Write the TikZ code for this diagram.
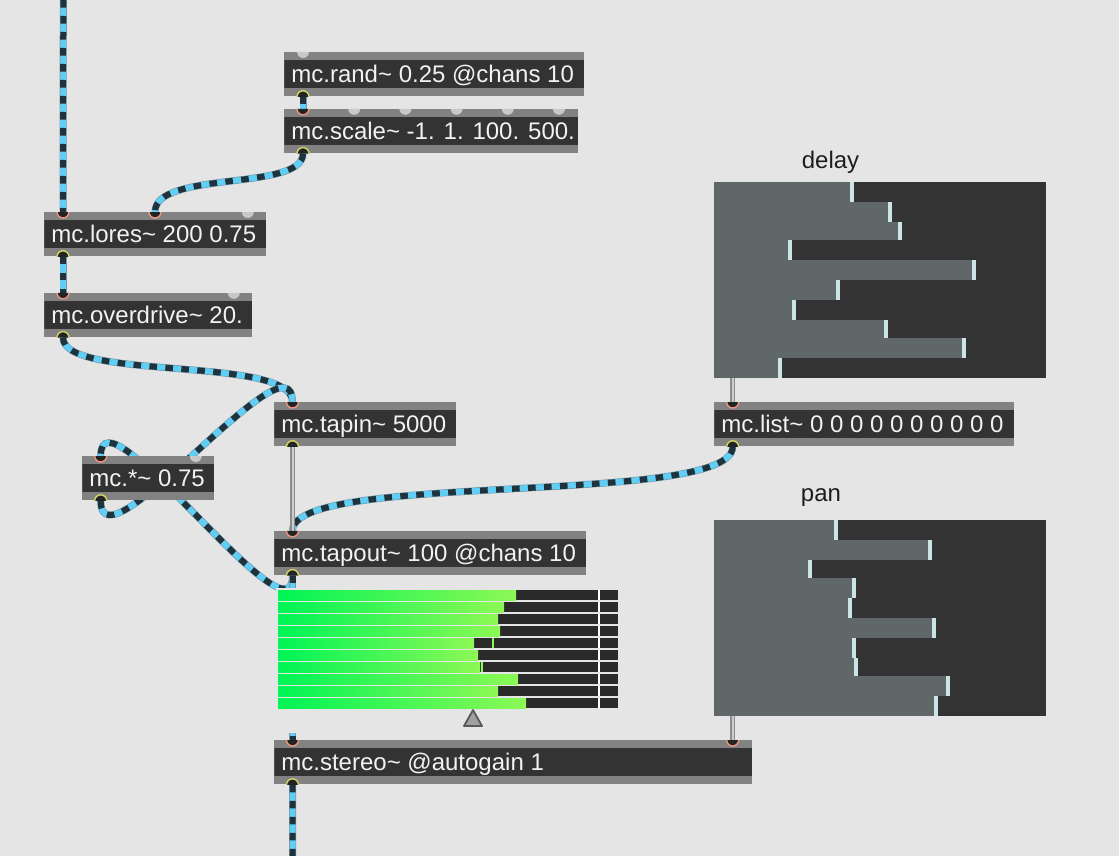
\documentclass[tikz,border=0pt]{standalone}
\usepackage{fontspec}
\setmainfont{Liberation Sans}
\usetikzlibrary{calc, positioning}
\definecolor{patchbg}{RGB}{229,229,229}
\definecolor{objbar}{RGB}{130,130,130}
\definecolor{objdark}{RGB}{51,51,51}
\definecolor{objtext}{RGB}{242,242,242}
\definecolor{labeltext}{RGB}{30,30,30}
\definecolor{sigcyan}{RGB}{96,206,245}
\definecolor{sigdark}{RGB}{32,50,60}
\definecolor{sigedge}{RGB}{120,150,162}
\definecolor{ctrlgrey}{RGB}{140,140,140}
\definecolor{ctrllight}{RGB}{205,205,205}
\definecolor{inlethot}{RGB}{236,150,130}
\definecolor{outletring}{RGB}{214,214,100}
\definecolor{portcold}{RGB}{200,200,200}
\definecolor{portdark}{RGB}{35,35,35}
\definecolor{msfill}{RGB}{95,103,105}
\definecolor{msknob}{RGB}{205,228,231}
\definecolor{meterdark}{RGB}{42,42,42}
\definecolor{metergreenA}{RGB}{0,245,85}
\definecolor{metergreenB}{RGB}{140,248,85}

\pgfdeclarelayer{back}
\pgfdeclarelayer{cords}
\pgfsetlayers{back,cords,main}

\newcommand{\maxin}[1]{\fill[portdark] (#1) ++(-3pt,0) arc[start angle=180, end angle=360, radius=3pt] -- cycle;
  \draw[inlethot, line width=0.7pt] (#1) ++(-3pt,0) arc[start angle=180, end angle=360, radius=3pt];}
\newcommand{\maxcold}[1]{\fill[portcold] (#1) ++(-3pt,0) arc[start angle=180, end angle=360, radius=3pt] -- cycle;}
\newcommand{\maxout}[1]{\fill[portdark] (#1) ++(-3pt,0) arc[start angle=180, end angle=0, radius=3pt] -- cycle;
  \draw[outletring, line width=0.7pt] (#1) ++(-3pt,0) arc[start angle=180, end angle=0, radius=3pt];}
\newcommand{\objtxt}[2]{\makebox[\dimexpr#1pt-7pt\relax][l]{#2}}

\begin{document}
\begin{tikzpicture}[x=0.5pt, y=-0.5pt,
    every node/.style={font=\fontsize{12pt}{14pt}\selectfont},
    maxobj/.style={rectangle, anchor=north west, fill=objbar, inner xsep=3.5pt, inner ysep=0pt,
      minimum height=22pt, text height=10pt, text depth=2pt, text=objtext,
      path picture={\fill[objdark] ([yshift=-4pt]path picture bounding box.north west)
        rectangle ([yshift=4pt]path picture bounding box.south east);}},
    msbox/.style={rectangle, anchor=north west, fill=objdark, inner sep=0pt, outer sep=0pt,
      minimum width=166pt, minimum height=98pt},
    sig/.style={draw=sigcyan, line width=2.9pt,
      preaction={draw=sigedge, line width=3.5pt},
      postaction={draw=sigdark, line width=3pt, dash pattern=on 3.8pt off 4.2pt}},
    ctrl/.style={draw=ctrlgrey, line width=2.6pt, postaction={draw=ctrllight, line width=1pt}}]

\begin{pgfonlayer}{back}
\fill[patchbg] (0,0) rectangle (1119,856);
\end{pgfonlayer}
\useasboundingbox (0,0) rectangle (1119,856);

% objects
\node[maxobj] (rand) at (284,52) {\objtxt{150}{mc.rand\textasciitilde{} 0.25 @chans 10}};
\node[maxobj, below=6pt of rand.south west, anchor=north west] (scale) {\objtxt{147}{mc.scale\textasciitilde{} -1. 1. 100. 500.}};
\node[maxobj] (lores) at (44,212) {\objtxt{111}{mc.lores\textasciitilde{} 200 0.75}};
\node[maxobj, below=18pt of lores.south west, anchor=north west] (drive) {\objtxt{104}{mc.overdrive\textasciitilde{} 20.}};
\node[maxobj] (tapin) at (274,402) {\objtxt{91}{mc.tapin\textasciitilde{} 5000}};
\node[maxobj] (mul) at (82,456) {\objtxt{66}{mc.*\textasciitilde{} 0.75}};
\node[maxobj, below=42pt of tapin.south west, anchor=north west] (tapout) {\objtxt{156}{mc.tapout\textasciitilde{} 100 @chans 10}};
\node[maxobj] (list) at (714,402) {\objtxt{150}{mc.list\textasciitilde{} 0 0 0 0 0 0 0 0 0 0}};
\node[maxobj] (stereo) at (274,740) {\objtxt{239}{mc.stereo\textasciitilde{} @autogain 1}};

% multisliders
\node[msbox] (delay) at (714,182) {};
\node[text=labeltext] (delaylabel) at (830.5,162) {delay};
\foreach \a/\b/\k in {182/202/854, 202/222/892, 222/240/902, 240/260/792, 260/280/976,
                      280/300/840, 300/320/796, 320/338/888, 338/358/966, 358/378/782} {
  \fill[msfill] (714,\a) rectangle (\k-4,\b);
  \fill[msknob] (\k-4,\a) rectangle (\k,\b);
}
\node[msbox] (pan) at (714,520) {};
\node[text=labeltext] (panlabel) at (821,498) {pan};
\foreach \a/\b/\k in {520/540/838, 540/560/932, 560/578/812, 578/598/856, 598/618/852,
                      618/638/936, 638/658/856, 658/676/858, 676/696/950, 696/716/938} {
  \fill[msfill] (714,\a) rectangle (\k-4,\b);
  \fill[msknob] (\k-4,\a) rectangle (\k,\b);
}

% meter
\fill[patchbg] (276,588) rectangle (620,733);
\foreach \i/\lev in {0/516, 1/504, 2/498, 3/500, 4/474, 5/478, 6/480, 7/518, 8/498, 9/526} {
  \fill[meterdark] (\lev,590+12*\i) rectangle (618,600+12*\i);
  \shade[left color=metergreenA, right color=metergreenB] (278,590+12*\i) rectangle (\lev,600+12*\i);
  \fill[white] (598,590+12*\i) rectangle (600,600+12*\i);
}
\fill[metergreenB] (492,638) rectangle (494,648);
\fill[metergreenB] (481,662) rectangle (483,672);
\filldraw[fill=gray!75!white, draw=black!65, line width=0.9pt, line join=round] (473,710) -- (482,726) -- (464,726) -- cycle;

% cords
\begin{pgfonlayer}{cords}
\coordinate (feed) at (63.3,0);
\coordinate (sink) at (292.7,856);
\coordinate (delayout) at ($(delay.south west)+(18.7,0)$);
\coordinate (panout) at ($(pan.south west)+(18.7,0)$);
\draw[sig] (feed) -- ($(lores.north west)+(19,0)$);
\draw[sig] ($(rand.south west)+(19,0)$) -- ($(scale.north west)+(19,0)$);
\draw[sig] ($(scale.south west)+(19,0)$) .. controls +(0,38) and +(0,-42) .. ($(lores.north west)+(111,0)$);
\draw[sig] ($(lores.south west)+(19,0)$) -- ($(drive.north west)+(19,0)$);
\draw[sig] ($(drive.south west)+(19,0)$) .. controls +(0,44) and +(0,-47) .. ($(tapin.north west)+(18.5,0)$);
\draw[sig] ($(mul.south west)+(18.7,0)$) .. controls +(0,75) and +(0,-75) .. ($(tapin.north west)+(18.5,0)$);
\draw[sig] ($(tapout.south west)+(18.5,0)$) .. controls +(0,75) and +(0,-75) .. ($(mul.north west)+(18.7,0)$);
\draw[sig] ($(list.south west)+(18.7,0)$) .. controls +(0,60) and +(0,-60) .. ($(tapout.north west)+(18.5,0)$);
\draw[sig] ($(tapout.south west)+(18.5,0)$) -- ($(stereo.north west)+(18.5,0)$);
\draw[sig] ($(stereo.south west)+(18.5,0)$) -- (sink);
\draw[ctrl] ($(tapin.south west)+(18.5,0)$) -- ($(tapout.north west)+(18.5,0)$);
\draw[ctrl] (delayout) -- (delayout |- list.north);
\draw[ctrl] (panout) -- (panout |- stereo.north);
\end{pgfonlayer}

% inlets and outlets
\maxcold{$(rand.north west)+(19,0)$}
\maxout{$(rand.south west)+(19,0)$}
\maxin{$(scale.north west)+(19,0)$}
\foreach \k in {1,...,5} {\maxcold{$(scale.north west)+(19+\k*51.2,0)$}}
\maxout{$(scale.south west)+(19,0)$}
\maxin{$(lores.north west)+(19,0)$}
\maxin{$(lores.north west)+(111,0)$}
\maxcold{$(lores.north east)+(-19,0)$}
\maxout{$(lores.south west)+(19,0)$}
\maxin{$(drive.north west)+(19,0)$}
\maxcold{$(drive.north east)+(-19,0)$}
\maxout{$(drive.south west)+(19,0)$}
\maxin{$(tapin.north west)+(18.5,0)$}
\maxout{$(tapin.south west)+(18.5,0)$}
\maxin{$(mul.north west)+(18.7,0)$}
\maxcold{$(mul.north east)+(-19,0)$}
\maxout{$(mul.south west)+(18.7,0)$}
\maxin{$(tapout.north west)+(18.5,0)$}
\maxout{$(tapout.south west)+(18.5,0)$}
\maxin{$(list.north west)+(18.7,0)$}
\maxout{$(list.south west)+(18.7,0)$}
\maxin{$(stereo.north west)+(18.5,0)$}
\maxin{$(panout |- stereo.north)$}
\maxout{$(stereo.south west)+(18.5,0)$}
\end{tikzpicture}
\end{document}
